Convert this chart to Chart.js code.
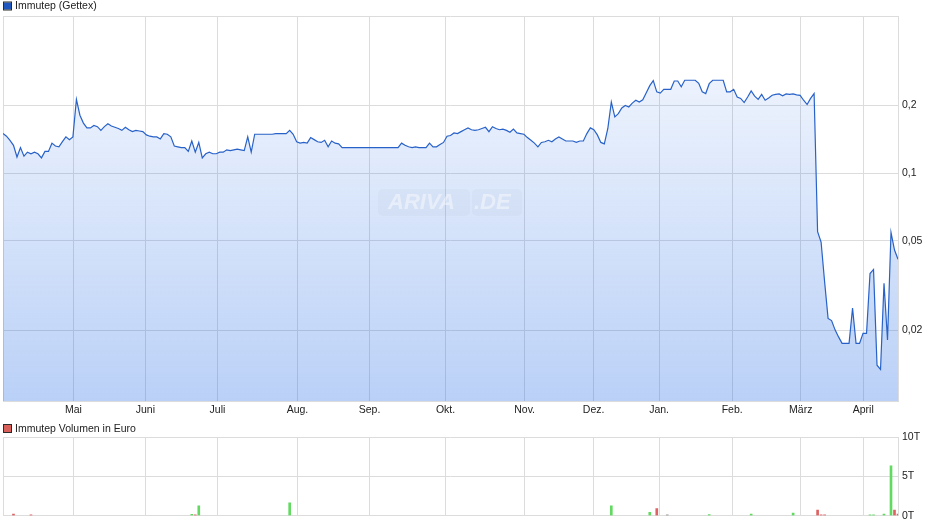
<!DOCTYPE html>
<html>
<head>
<meta charset="utf-8">
<script src="https://cdn.jsdelivr.net/npm/chart.js@4/dist/chart.umd.min.js"></script>
<style>
  body { margin: 0; background: #fff; }
  #wrap { position: relative; width: 940px; height: 526px; }
  canvas { position: absolute; left: 0; }
  #priceChart { top: 0; }
  #volChart { top: 420px; }
</style>
</head>
<body>
<div id="wrap">
  <canvas id="priceChart" width="940" height="420"></canvas>
  <canvas id="volChart" width="940" height="106"></canvas>
</div>
<script>
// daily closing prices in EUR, one per trading day
const priceVals = [
  0.150, 0.146, 0.140, 0.133, 0.118, 0.130, 0.119, 0.124, 0.122, 0.124,
  0.122, 0.117, 0.125, 0.125, 0.136, 0.132, 0.131, 0.138, 0.145, 0.141,
  0.145, 0.213, 0.181, 0.167, 0.159, 0.159, 0.163, 0.161, 0.155, 0.161,
  0.166, 0.162, 0.160, 0.158, 0.155, 0.160, 0.156, 0.153, 0.155, 0.154,
  0.153, 0.148, 0.146, 0.145, 0.145, 0.142, 0.150, 0.149, 0.145, 0.132,
  0.131, 0.130, 0.130, 0.125, 0.139, 0.124, 0.137, 0.117, 0.122, 0.124,
  0.122, 0.122, 0.124, 0.124, 0.127, 0.126, 0.127, 0.128, 0.127, 0.126,
  0.145, 0.124, 0.149, 0.149, 0.149, 0.149, 0.149, 0.149, 0.150, 0.150,
  0.150, 0.150, 0.155, 0.149, 0.138, 0.136, 0.137, 0.136, 0.144, 0.141,
  0.138, 0.137, 0.140, 0.131, 0.139, 0.136, 0.135, 0.130, 0.130, 0.130,
  0.130, 0.130, 0.130, 0.130, 0.130, 0.130, 0.130, 0.130, 0.130, 0.130,
  0.130, 0.130, 0.130, 0.130, 0.136, 0.133, 0.131, 0.130, 0.131, 0.130,
  0.130, 0.130, 0.136, 0.131, 0.131, 0.134, 0.137, 0.146, 0.147, 0.151,
  0.150, 0.153, 0.156, 0.159, 0.156, 0.155, 0.156, 0.158, 0.160, 0.153,
  0.161, 0.158, 0.156, 0.157, 0.155, 0.152, 0.157, 0.151, 0.150, 0.149,
  0.144, 0.140, 0.136, 0.131, 0.137, 0.138, 0.140, 0.138, 0.142, 0.145,
  0.142, 0.139, 0.139, 0.139, 0.137, 0.139, 0.139, 0.150, 0.159, 0.156,
  0.148, 0.137, 0.135, 0.158, 0.207, 0.178, 0.184, 0.195, 0.200, 0.197,
  0.205, 0.211, 0.207, 0.212, 0.228, 0.245, 0.258, 0.230, 0.227, 0.236,
  0.236, 0.236, 0.257, 0.257, 0.242, 0.259, 0.259, 0.259, 0.259, 0.251,
  0.230, 0.226, 0.250, 0.259, 0.259, 0.259, 0.259, 0.230, 0.230, 0.236,
  0.218, 0.215, 0.206, 0.218, 0.232, 0.220, 0.213, 0.224, 0.211, 0.216,
  0.222, 0.224, 0.225, 0.221, 0.225, 0.224, 0.225, 0.223, 0.222, 0.211,
  0.202, 0.215, 0.226, 0.0549, 0.0494, 0.033, 0.0226, 0.0221, 0.0201, 0.0187,
  0.0175, 0.0175, 0.0175, 0.0251, 0.0175, 0.0175, 0.0194, 0.0194, 0.0358, 0.0373,
  0.0140, 0.0134, 0.0324, 0.0181, 0.0545, 0.0455, 0.0414
];

// month starts, as trading-day positions
const monthNames = ["Mai", "Juni", "Juli", "Aug.", "Sep.", "Okt.", "Nov.", "Dez.", "Jan.", "Feb.", "März", "April"];
const monthPos = [20.12, 40.73, 61.33, 84.23, 104.84, 126.59, 149.2, 168.95, 187.66, 208.56, 228.19, 246.05];

const priceMin = 0.0097;
const priceMax = 0.5;
const priceTicks = [0.02, 0.05, 0.1, 0.2, 0.5];
const priceLabelTicks = [0.02, 0.05, 0.1, 0.2];

// turnover in EUR on the days that had trades
const volDays = [3, 8, 54, 55, 56, 82, 174, 185, 187, 190, 202, 214, 226, 233, 234, 235, 248, 249, 252, 254, 255, 256];
const volEuro = [190, 100, 160, 100, 1270, 1650, 1270, 420, 890, 100, 130, 190, 320, 700, 100, 100, 120, 120, 200, 6330, 700, 190];
const volTicks = [0, 5000, 10000];

const FONT = { family: '"Liberation Sans", Arial, sans-serif', size: 10.5 };
const GRID = "#dcdcdc";
const lastDay = priceVals.length - 1;

function monthAxisTicks(scale) {
  scale.ticks = [0].concat(monthPos, [lastDay]).map(v => ({ value: v }));
}

function monthLabel(value) {
  const i = monthPos.indexOf(value);
  return i >= 0 ? monthNames[i] : "";
}

const legendBox = {
  id: "legendBox",
  afterDraw(chart, args, opts) {
    const c = chart.ctx;
    c.save();
    c.fillStyle = opts.color;
    c.fillRect(4, opts.y - 3.5, 7, 7);
    c.strokeStyle = "#2b2b2b";
    c.lineWidth = 1;
    c.strokeRect(3.5, opts.y - 4, 8, 8);
    c.fillStyle = "#222";
    c.font = '10.5px "Liberation Sans", Arial, sans-serif';
    c.textBaseline = "middle";
    c.fillText(opts.text, 15, opts.y + 0.5);
    c.restore();
  }
};

// faint site logo in the middle of the price panel
const watermark = {
  id: "watermark",
  afterDatasetsDraw(chart) {
    const c = chart.ctx;
    c.save();
    c.fillStyle = "rgba(150,165,195,0.08)";
    c.beginPath();
    c.roundRect(378, 189, 92, 27, 5);
    c.fill();
    c.beginPath();
    c.roundRect(472, 189, 50, 27, 5);
    c.fill();
    c.fillStyle = "rgba(255,255,255,0.45)";
    c.font = 'italic bold 22px "Liberation Sans", Arial, sans-serif';
    c.textBaseline = "middle";
    c.fillText("ARIVA", 388, 203);
    c.fillText(".DE", 474, 203);
    c.restore();
  }
};

const priceCtx = document.getElementById("priceChart").getContext("2d");
new Chart(priceCtx, {
  type: "line",
  data: {
    datasets: [{
      label: "Immutep (Gettex)",
      data: priceVals.map((v, i) => ({ x: i, y: v })),
      borderColor: "rgb(40,98,200)",
      borderWidth: 1.2,
      pointRadius: 0,
      tension: 0,
      fill: "start",
      backgroundColor: function (ctx) {
        const area = ctx.chart.chartArea;
        if (!area) return "rgba(40,110,230,0.15)";
        const g = ctx.chart.ctx.createLinearGradient(0, area.top, 0, area.bottom);
        g.addColorStop(0, "rgba(40,110,230,0.04)");
        g.addColorStop(1, "rgba(40,110,230,0.32)");
        return g;
      }
    }]
  },
  options: {
    responsive: false,
    animation: false,
    devicePixelRatio: 1,
    layout: { padding: { top: 16, left: 3, right: 0, bottom: 0 } },
    plugins: {
      legend: { display: false },
      tooltip: { enabled: false },
      legendBox: { text: "Immutep (Gettex)", color: "#2158c0", y: 6 }
    },
    scales: {
      x: {
        type: "linear",
        min: 0,
        max: lastDay,
        afterBuildTicks: monthAxisTicks,
        afterFit: s => { s.height = 19; },
        grid: { color: GRID, drawTicks: false },
        border: { color: GRID },
        ticks: {
          autoSkip: false,
          maxRotation: 0,
          padding: 3,
          color: "#222",
          font: FONT,
          callback: monthLabel
        }
      },
      y: {
        type: "logarithmic",
        position: "right",
        min: priceMin,
        max: priceMax,
        afterBuildTicks: s => { s.ticks = priceTicks.map(v => ({ value: v })); },
        afterFit: s => { s.width = 42; },
        grid: { color: GRID, drawTicks: false },
        border: { color: GRID },
        ticks: {
          padding: 4,
          color: "#222",
          font: FONT,
          callback: v => priceLabelTicks.includes(v) ? String(v).replace(".", ",") : ""
        }
      }
    }
  },
  plugins: [legendBox, watermark]
});

function barColor(day) {
  const d = priceVals[day] - priceVals[day - 1];
  if (d > 0) return "rgb(98,218,98)";
  if (d < 0) return "rgb(222,98,98)";
  return "rgb(150,150,150)";
}

const volCtx = document.getElementById("volChart").getContext("2d");
new Chart(volCtx, {
  type: "bar",
  data: {
    datasets: [{
      label: "Immutep Volumen in Euro",
      data: volDays.map((d, i) => ({ x: d, y: volEuro[i] })),
      backgroundColor: volDays.map(barColor),
      barThickness: 2,
      borderWidth: 0
    }]
  },
  options: {
    responsive: false,
    animation: false,
    devicePixelRatio: 1,
    layout: { padding: { top: 17, left: 3, right: 0, bottom: 0 } },
    plugins: {
      legend: { display: false },
      tooltip: { enabled: false },
      legendBox: { text: "Immutep Volumen in Euro", color: "#d9605a", y: 8.5 }
    },
    scales: {
      x: {
        type: "linear",
        min: 0,
        max: lastDay,
        offset: false,
        afterBuildTicks: monthAxisTicks,
        afterFit: s => { s.height = 10; },
        grid: { color: GRID, drawTicks: false, offset: false },
        border: { color: GRID },
        ticks: { display: false }
      },
      y: {
        position: "right",
        min: 0,
        max: 10000,
        afterBuildTicks: s => { s.ticks = volTicks.map(v => ({ value: v })); },
        afterFit: s => { s.width = 42; },
        grid: { color: GRID, drawTicks: false },
        border: { color: GRID },
        ticks: {
          padding: 4,
          color: "#222",
          font: FONT,
          callback: v => (v / 1000) + "T"
        }
      }
    }
  },
  plugins: [legendBox]
});
</script>
</body>
</html>
